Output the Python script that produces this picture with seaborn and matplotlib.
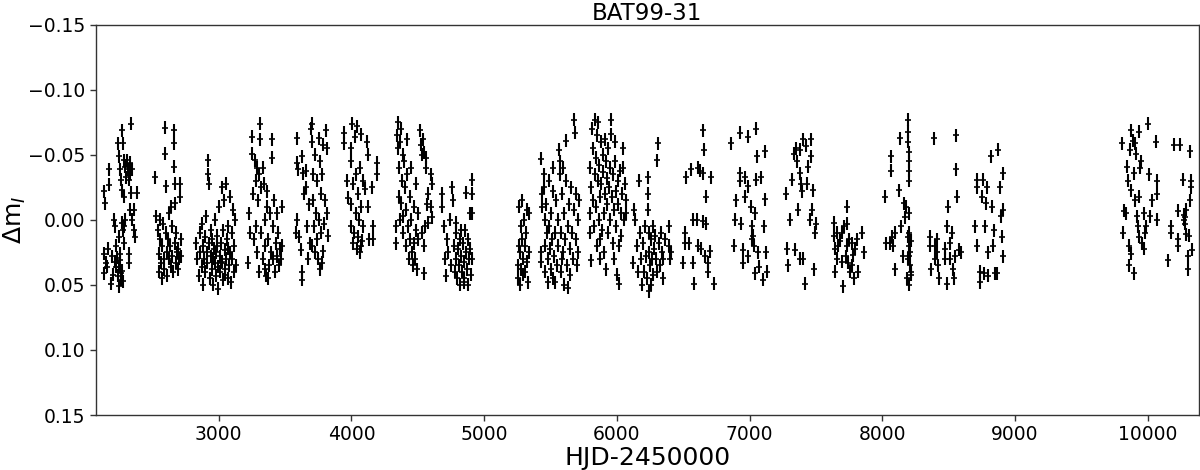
import numpy as np
import pandas as pd
import matplotlib
matplotlib.use("Agg")
import matplotlib.pyplot as plt
import seaborn as sns

# photometry, one list of (HJD-2450000, delta mag) per season
season_01 = [(2138, -0.022), (2140, -0.013), (2170, -0.039), (2175, -0.027), (2133, 0.026), (2135, 0.041),
             (2153, 0.033), (2165, 0.022), (2158, 0.036), (2188, 0.049), (2195, 0.028), (2203, 0.042),
             (2208, 0.000), (2220, 0.005), (2222, 0.020), (2228, 0.036), (2238, 0.043), (2245, 0.013),
             (2247, 0.051), (2253, 0.026), (2258, 0.031), (2263, 0.041), (2271, 0.002), (2278, 0.008),
             (2283, 0.018), (2288, 0.005), (2296, 0.000), (2260, 0.046), (2238, -0.059), (2245, -0.049),
             (2258, -0.039), (2263, -0.031), (2271, -0.023), (2273, -0.069), (2278, -0.059), (2283, -0.046),
             (2288, -0.018), (2296, -0.041), (2303, -0.033), (2308, -0.046), (2313, -0.039), (2321, -0.031),
             (2328, -0.044), (2333, -0.036), (2338, -0.021), (2346, -0.039), (2333, -0.008), (2346, 0.000),
             (2358, 0.008), (2326, 0.026), (2321, 0.033), (2338, -0.074), (2383, -0.021), (2363, -0.008),
             (2371, 0.013), (2250, 0.036), (2232, 0.029), (2268, 0.039), (2215, 0.032), (2280, 0.047)]
season_02 = [(2521, -0.033), (2528, -0.003), (2597, -0.071), (2597, -0.051), (2605, -0.026), (2660, -0.069),
             (2662, -0.059), (2665, -0.041), (2667, -0.028), (2710, -0.028), (2705, -0.018), (2545, 0.008),
             (2550, 0.026), (2552, 0.040), (2560, 0.015), (2565, 0.033), (2570, 0.045), (2575, 0.020),
             (2580, 0.003), (2585, 0.030), (2590, 0.038), (2600, 0.010), (2607, 0.025), (2612, 0.043),
             (2618, 0.015), (2622, -0.005), (2628, 0.030), (2635, 0.020), (2640, 0.036), (2645, 0.005),
             (2650, 0.028), (2655, 0.040), (2670, 0.018), (2675, 0.033), (2680, 0.010), (2685, 0.025),
             (2690, 0.038), (2695, 0.022), (2700, 0.030), (2715, 0.015), (2718, 0.028), (2672, -0.013),
             (2640, -0.010), (2560, 0.000)]
season_03 = [(2830, 0.018), (2838, 0.030), (2850, 0.043), (2858, 0.010), (2862, 0.025), (2870, 0.036),
             (2876, 0.003), (2880, 0.050), (2885, 0.020), (2890, 0.030), (2895, 0.013), (2900, 0.040),
             (2905, -0.003), (2910, 0.025), (2915, 0.033), (2920, -0.046), (2922, -0.035), (2924, -0.028),
             (2928, 0.018), (2932, 0.045), (2938, 0.008), (2942, 0.028), (2948, 0.038), (2952, 0.015),
             (2958, 0.050), (2962, 0.022), (2968, 0.033), (2972, 0.000), (2978, 0.043), (2982, 0.025),
             (2988, 0.012), (2992, 0.036), (2998, 0.053), (3002, -0.010), (3008, 0.028), (3012, 0.040),
             (3018, 0.018), (3022, -0.025), (3028, 0.032), (3032, 0.046), (3035, 0.008), (3040, -0.015),
             (3045, 0.023), (3050, 0.038), (3055, 0.030), (3058, -0.028), (3062, 0.015), (3068, 0.045),
             (3072, 0.005), (3078, 0.035), (3082, -0.018), (3088, 0.025), (3092, 0.048), (3098, 0.010),
             (3102, 0.030), (3108, -0.008), (3112, 0.040), (3118, 0.020), (3125, 0.000), (3130, 0.035),
             (2960, 0.030), (2990, 0.020), (3015, 0.033), (3045, 0.042), (3070, 0.022)]
season_04 = [(3224, 0.033), (3230, -0.005), (3238, 0.010), (3249, -0.064), (3251, -0.051), (3260, -0.020),
             (3265, 0.015), (3274, -0.046), (3278, -0.030), (3282, 0.005), (3288, 0.025), (3295, -0.015),
             (3300, 0.040), (3305, -0.035), (3311, -0.074), (3313, -0.062), (3318, -0.025), (3322, 0.010),
             (3330, 0.030), (3336, -0.040), (3338, -0.028), (3345, 0.000), (3350, 0.020), (3356, 0.043),
             (3362, -0.022), (3365, -0.010), (3372, 0.015), (3380, 0.035), (3385, -0.005), (3392, 0.025),
             (3399, -0.062), (3401, -0.048), (3405, 0.005), (3412, 0.030), (3418, -0.015), (3425, 0.040),
             (3430, 0.018), (3437, -0.005), (3442, 0.028), (3450, 0.010), (3455, 0.035), (3462, 0.022),
             (3470, 0.030), (3475, -0.010), (3480, 0.020), (3345, 0.038), (3290, -0.040), (3370, 0.045)]
season_05 = [(3588, -0.063), (3592, -0.044), (3596, -0.039), (3580, 0.010), (3592, 0.000), (3605, 0.013),
             (3622, 0.023), (3625, 0.040), (3630, 0.046), (3630, -0.049), (3636, -0.036), (3642, -0.020),
             (3655, -0.038), (3660, -0.025), (3665, 0.005), (3670, 0.030), (3680, -0.012), (3690, 0.018),
             (3692, -0.070), (3700, -0.074), (3705, -0.060), (3708, -0.035), (3712, -0.015), (3718, 0.005),
             (3722, 0.025), (3728, -0.050), (3732, -0.005), (3738, 0.015), (3742, -0.030), (3748, 0.030),
             (3752, -0.063), (3758, 0.000), (3762, -0.045), (3768, -0.020), (3772, 0.010), (3775, 0.033),
             (3780, -0.035), (3786, -0.058), (3790, 0.003), (3800, -0.015), (3808, -0.069), (3812, -0.055),
             (3818, -0.005), (3822, 0.012), (3785, 0.024), (3765, 0.038), (3700, 0.020)]
season_06 = [(3944, -0.067), (3946, -0.059), (3969, -0.030), (3971, -0.017), (3994, -0.055), (3996, -0.045),
             (3998, -0.012), (4000, 0.005), (4006, -0.074), (4010, 0.018), (4015, -0.028), (4020, 0.010),
             (4028, -0.064), (4031, -0.035), (4035, -0.005), (4040, 0.022), (4045, -0.072), (4050, -0.020),
             (4053, 0.013), (4056, 0.000), (4062, -0.040), (4066, 0.025), (4070, -0.010), (4075, -0.066),
             (4081, 0.016), (4085, -0.030), (4090, 0.005), (4119, -0.060), (4121, -0.050), (4125, -0.010),
             (4130, 0.015), (4157, -0.025), (4160, 0.005), (4162, 0.015), (4194, -0.044), (4192, -0.035),
             (4100, -0.024), (4072, 0.020)]
season_07 = [(4335, 0.005), (4338, 0.018), (4345, -0.065), (4350, -0.055), (4352, -0.075), (4357, -0.040),
             (4360, -0.018), (4362, 0.000), (4368, -0.060), (4372, -0.070), (4375, -0.013), (4380, -0.030),
             (4385, -0.050), (4388, -0.003), (4392, 0.010), (4398, -0.045), (4402, -0.025), (4408, -0.008),
             (4412, 0.020), (4415, -0.062), (4420, -0.035), (4425, 0.005), (4430, 0.030), (4438, -0.018),
             (4442, 0.015), (4448, -0.040), (4452, 0.000), (4458, 0.025), (4462, 0.035), (4468, -0.010),
             (4472, 0.018), (4478, 0.030), (4485, -0.028), (4490, 0.008), (4495, 0.038), (4500, 0.015),
             (4505, -0.005), (4520, -0.069), (4525, -0.058), (4528, -0.050), (4540, -0.062), (4545, -0.052),
             (4548, 0.041), (4560, -0.040), (4565, -0.048), (4570, -0.012), (4575, 0.002), (4580, -0.020),
             (4600, -0.035), (4605, -0.028), (4602, -0.010), (4610, -0.002), (4530, 0.010), (4550, 0.020),
             (4555, 0.005)]
season_08 = [(4683, -0.020), (4686, -0.010), (4700, 0.005), (4708, 0.030), (4710, 0.043), (4720, 0.015),
             (4730, 0.025), (4740, 0.000), (4750, 0.035), (4759, -0.025), (4762, -0.015), (4770, 0.020),
             (4778, 0.040), (4785, 0.010), (4790, 0.030), (4796, 0.045), (4800, 0.022), (4808, 0.035),
             (4815, 0.015), (4820, 0.050), (4828, 0.028), (4834, 0.040), (4840, 0.018), (4845, 0.032),
             (4850, 0.045), (4855, 0.008), (4860, 0.025), (4865, -0.021), (4870, 0.038), (4875, 0.015),
             (4880, 0.050), (4888, 0.030), (4893, -0.005), (4896, 0.022), (4900, 0.042), (4905, -0.031),
             (4906, -0.020), (4908, -0.005), (4910, 0.030), (4790, 0.002), (4825, 0.008), (4845, 0.048)]
season_09 = [(5255, 0.035), (5258, 0.045), (5262, 0.020), (5265, -0.010), (5268, 0.050), (5272, 0.025),
             (5275, 0.005), (5278, 0.038), (5282, -0.015), (5285, 0.015), (5290, 0.030), (5295, 0.042),
             (5300, 0.000), (5305, 0.020), (5310, 0.040), (5315, 0.010), (5320, -0.008), (5325, 0.032),
             (5330, 0.048), (5338, 0.025), (5335, -0.005)]
season_10 = [(5432, -0.047), (5434, -0.020), (5436, -0.010), (5429, 0.025), (5431, 0.032), (5448, -0.035),
             (5452, -0.025), (5455, 0.000), (5458, 0.020), (5462, 0.040), (5468, -0.012), (5472, 0.010),
             (5478, 0.030), (5482, 0.048), (5488, 0.005), (5492, -0.030), (5495, 0.022), (5500, 0.038),
             (5505, -0.005), (5510, 0.015), (5515, -0.040), (5518, -0.022), (5522, 0.045), (5528, 0.028),
             (5535, 0.010), (5540, -0.015), (5548, 0.035), (5555, 0.000), (5560, 0.020), (5567, -0.054),
             (5570, -0.045), (5572, -0.035), (5578, 0.010), (5582, 0.040), (5588, -0.020), (5592, -0.040),
             (5596, 0.025), (5600, 0.050), (5605, -0.005), (5610, 0.015), (5617, -0.061), (5620, -0.030),
             (5625, 0.035), (5630, 0.005), (5635, 0.052), (5640, -0.012), (5645, 0.022), (5650, 0.042),
             (5655, -0.025), (5660, 0.010), (5668, 0.030), (5675, -0.008), (5680, -0.077), (5682, -0.067),
             (5690, 0.015), (5695, -0.020), (5700, 0.035), (5705, 0.000), (5710, 0.025), (5712, -0.015),
             (5530, 0.048), (5585, 0.030)]
season_11 = [(5795, -0.005), (5798, 0.010), (5800, -0.040), (5805, -0.025), (5808, 0.031), (5815, -0.070),
             (5818, -0.055), (5822, -0.015), (5828, 0.005), (5832, -0.077), (5835, -0.035), (5840, -0.048),
             (5845, -0.010), (5848, 0.020), (5852, -0.065), (5855, -0.030), (5860, -0.075), (5862, 0.000),
             (5866, -0.042), (5870, -0.018), (5875, 0.015), (5880, -0.060), (5884, -0.028), (5888, 0.008),
             (5892, -0.050), (5895, -0.037), (5900, -0.005), (5905, 0.025), (5910, -0.020), (5915, -0.045),
             (5918, 0.038), (5922, -0.012), (5928, -0.032), (5932, 0.010), (5936, -0.055), (5940, -0.025),
             (5945, 0.000), (5950, -0.040), (5956, -0.077), (5958, -0.066), (5962, -0.018), (5968, 0.018),
             (5972, -0.035), (5978, -0.008), (5982, 0.030), (5988, -0.045), (5992, -0.022), (5996, 0.005),
             (6000, 0.042), (6005, -0.030), (6010, -0.012), (6015, 0.049), (6018, 0.020), (6022, -0.038),
             (6028, -0.005), (6032, 0.012), (6040, -0.020), (6045, -0.055), (6048, -0.040), (6052, 0.000),
             (6060, -0.028), (6065, -0.015), (6068, -0.005), (5985, -0.060), (5908, -0.062), (5870, 0.030)]
season_12 = [(6119, 0.033), (6131, -0.008), (6133, 0.000), (6150, 0.020), (6160, 0.040), (6169, -0.030),
             (6172, 0.010), (6180, 0.030), (6190, 0.050), (6200, 0.018), (6207, 0.040), (6215, 0.005),
             (6222, 0.028), (6230, 0.045), (6236, -0.033), (6237, -0.020), (6238, -0.008), (6240, 0.010),
             (6245, 0.025), (6250, 0.035), (6255, 0.050), (6260, 0.015), (6265, 0.030), (6270, 0.005),
             (6275, 0.042), (6280, 0.022), (6299, -0.046), (6285, 0.012), (6295, 0.030), (6305, 0.040),
             (6311, -0.059), (6315, 0.018), (6325, 0.035), (6330, 0.010), (6340, 0.025), (6400, 0.030),
             (6240, 0.055), (6390, 0.005), (6395, 0.020), (6405, 0.025), (6350, 0.030), (6360, 0.015),
             (6345, 0.045)]
season_13 = [(6510, 0.010), (6513, 0.018), (6499, 0.033), (6524, -0.033), (6542, 0.018), (6557, -0.039),
             (6570, 0.000), (6575, 0.033), (6580, 0.049), (6607, 0.000), (6612, -0.040), (6625, -0.038),
             (6612, 0.020), (6637, 0.022), (6650, -0.069), (6655, -0.054), (6650, 0.001), (6652, -0.036),
             (6662, 0.028), (6675, -0.018), (6675, 0.003), (6688, 0.033), (6700, 0.024), (6712, -0.033),
             (6733, 0.049), (6690, 0.040)]
season_14 = [(6863, -0.059), (6883, 0.020), (6893, 0.000), (6900, -0.015), (6926, -0.067), (6925, -0.036),
             (6928, -0.030), (6938, 0.003), (6950, 0.023), (6952, 0.033), (6963, -0.018), (6968, -0.033),
             (6988, -0.064), (6990, -0.026), (6985, 0.028), (7010, -0.010), (7015, 0.005), (7020, 0.015),
             (7026, 0.012), (7030, 0.020), (7038, 0.041), (7051, -0.070), (7058, -0.049), (7050, -0.031),
             (7063, 0.025), (7068, 0.036), (7089, -0.033), (7100, 0.046), (7108, 0.005), (7114, -0.053),
             (7116, -0.016), (7125, 0.025), (7130, 0.040), (7040, -0.005)]
season_15 = [(7277, -0.020), (7279, 0.022), (7288, 0.035), (7302, 0.000), (7320, -0.031), (7335, -0.051),
             (7340, 0.023), (7352, -0.055), (7355, -0.045), (7365, -0.008), (7377, -0.054), (7378, -0.036),
             (7390, -0.028), (7392, -0.022), (7402, -0.062), (7405, 0.030), (7420, 0.049), (7427, -0.057),
             (7435, -0.028), (7440, -0.041), (7452, 0.000), (7460, -0.062), (7465, -0.049), (7470, -0.008),
             (7477, -0.023), (7490, 0.010), (7503, 0.003), (7485, 0.038), (7377, 0.030)]
season_16 = [(7633, 0.002), (7634, 0.012), (7641, 0.040), (7656, 0.010), (7660, 0.030), (7665, 0.020),
             (7684, 0.016), (7695, 0.010), (7707, 0.051), (7734, -0.010), (7733, 0.003), (7737, 0.020),
             (7745, 0.033), (7752, 0.015), (7757, 0.040), (7770, 0.018), (7774, 0.035), (7783, 0.027),
             (7809, 0.015), (7820, 0.040), (7847, 0.010), (7860, 0.025), (7715, 0.005), (7725, 0.028),
             (7790, 0.045), (7796, 0.022), (7640, 0.022), (7700, 0.032)]
season_17 = [(8017, -0.018), (8027, 0.018), (8065, -0.049), (8067, -0.038), (8060, 0.018), (8075, 0.013),
             (8082, 0.020), (8095, 0.010), (8098, 0.038), (8123, -0.023), (8135, -0.063), (8143, 0.005),
             (8153, 0.028), (8165, -0.013), (8172, -0.002), (8180, -0.010), (8195, -0.077), (8196, -0.068),
             (8197, -0.060), (8198, -0.052), (8199, -0.045), (8200, -0.038), (8201, -0.030), (8198, -0.005),
             (8195, 0.013), (8200, 0.020), (8205, 0.028), (8210, 0.035), (8215, 0.042), (8200, 0.050),
             (8205, 0.010), (8212, 0.025), (8220, 0.040), (8220, 0.016), (8185, 0.045), (8192, 0.030)]
season_18 = [(8361, 0.013), (8363, 0.020), (8368, 0.038), (8386, -0.063), (8398, 0.020), (8400, 0.030),
             (8410, 0.015), (8413, 0.025), (8420, 0.035), (8474, 0.022), (8476, 0.030), (8486, 0.049),
             (8494, -0.010), (8490, 0.005), (8510, 0.018), (8512, 0.030), (8528, 0.010), (8536, 0.038),
             (8554, -0.065), (8554, -0.039), (8561, -0.018), (8550, 0.028), (8580, 0.023), (8595, 0.025),
             (8540, 0.045), (8430, 0.045)]
season_19 = [(8699, 0.005), (8712, -0.031), (8714, -0.025), (8712, 0.020), (8737, 0.040), (8740, 0.048),
             (8749, -0.018), (8762, -0.031), (8770, 0.041), (8780, -0.013), (8787, -0.025), (8775, 0.005),
             (8800, 0.025), (8795, 0.043), (8820, -0.049), (8825, -0.010), (8837, 0.020), (8843, 0.008),
             (8850, 0.041), (8862, 0.041), (8875, -0.054), (8888, -0.025), (8895, -0.003), (8905, 0.013),
             (8913, -0.036), (8913, -0.008), (8908, 0.028)]
season_20 = [(9808, -0.059), (9818, -0.007), (9813, 0.010), (9833, -0.005), (9843, -0.041), (9851, -0.030),
             (9863, -0.054), (9871, -0.069), (9856, 0.020), (9858, 0.035), (9876, -0.023), (9876, 0.026),
             (9888, -0.061), (9896, -0.036), (9901, -0.059), (9901, -0.015), (9899, 0.041), (9913, -0.051),
             (9918, -0.003), (9926, 0.005), (9931, -0.018), (9931, 0.013), (9938, -0.068), (9940, -0.040),
             (9946, -0.045), (9959, 0.018), (9971, -0.005), (9974, 0.022), (9981, 0.010), (9989, 0.005),
             (10001, -0.074), (10006, -0.035), (10021, -0.003), (10034, -0.015), (10064, -0.060),
             (10068, -0.030), (10070, -0.020), (10071, 0.000)]
season_21 = [(10152, 0.031), (10175, 0.005), (10177, 0.010), (10197, -0.058), (10227, -0.007), (10225, 0.015),
             (10229, 0.020), (10247, -0.058), (10265, -0.031), (10275, -0.004), (10277, 0.000), (10279, 0.003),
             (10281, -0.002), (10290, -0.008), (10285, 0.011), (10302, 0.028), (10304, 0.038), (10315, -0.015),
             (10313, 0.012), (10322, -0.053), (10327, -0.030), (10329, -0.025), (10335, 0.023)]

mag_err = 0.005

seasons = [season_01, season_02, season_03, season_04, season_05, season_06, season_07,
           season_08, season_09, season_10, season_11, season_12, season_13, season_14,
           season_15, season_16, season_17, season_18, season_19, season_20, season_21]
df = pd.DataFrame([p for s in seasons for p in s], columns=["hjd", "dm"])

sns.set_theme(context="notebook", style="ticks")
plt.rcParams["font.family"] = ["DejaVu Sans"]
plt.rcParams["axes.edgecolor"] = "0.2"
plt.rcParams["xtick.color"] = "0.2"
plt.rcParams["ytick.color"] = "0.2"

fig = plt.figure(figsize=(12, 4.7), dpi=100)
ax = fig.add_axes([0.08, 0.117, 0.919, 0.83])

ax.errorbar(df["hjd"], df["dm"], yerr=mag_err, fmt="none", ecolor="black", elinewidth=1.5, capsize=0, zorder=2)
sns.scatterplot(data=df, x="hjd", y="dm", marker="_", color="black", s=16, linewidth=1.2, ax=ax, zorder=3)

ax.set_xlim(2075, 10385)
ax.set_ylim(0.15, -0.15)
ax.set_yticks(np.arange(-0.15, 0.151, 0.05))
ax.set_xticks(np.arange(3000, 10001, 1000))
ax.tick_params(labelsize=13.5, length=4, width=1, labelcolor="black")
ax.set_xlabel("HJD-2450000", fontsize=18, color="black", labelpad=1)
ax.set_ylabel("Δm$_I$", fontsize=18, color="black", labelpad=0)
ax.set_title("BAT99-31", fontsize=16.5, color="black", pad=3)
for sp in ax.spines.values():
    sp.set_visible(True)
    sp.set_linewidth(1)

fig.savefig("out.png", dpi=100)
